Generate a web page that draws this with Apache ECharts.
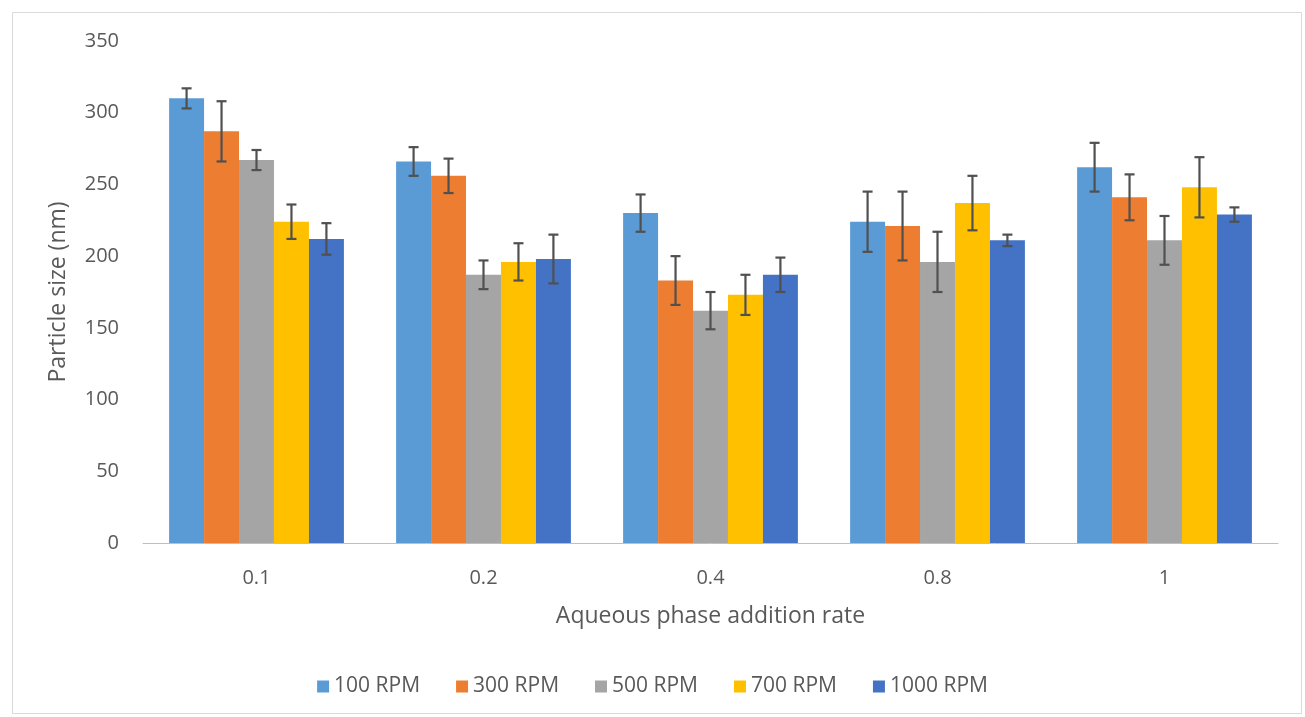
<!DOCTYPE html>
<html><head><meta charset="utf-8">
<script src="https://cdn.jsdelivr.net/npm/echarts@6/dist/echarts.min.js"></script>
<style>html,body{margin:0;padding:0;background:#fff}#c{width:1305px;height:717px}</style>
</head><body><div id="c"></div>
<script>
const categories = ['0.1', '0.2', '0.4', '0.8', '1'];
const seriesNames = ['100 RPM', '300 RPM', '500 RPM', '700 RPM', '1000 RPM'];
const rpm100 = [310, 266, 230, 224, 262];
const rpm300 = [287, 256, 183, 221, 241];
const rpm500 = [267, 187, 162, 196, 211];
const rpm700 = [224, 196, 173, 237, 248];
const rpm1000 = [212, 198, 187, 211, 229];
const err100 = [7, 10, 13, 21, 17];
const err300 = [21, 12, 17, 24, 16];
const err500 = [7, 10, 13, 21, 17];
const err700 = [12, 13, 14, 19, 21];
const err1000 = [11, 17, 12, 4, 5];
const yTicks = [0, 50, 100, 150, 200, 250, 300, 350];

const values = [rpm100, rpm300, rpm500, rpm700, rpm1000];
const errors = [err100, err300, err500, err700, err1000];
const colors = ['#5B9BD5', '#ED7D31', '#A5A5A5', '#FFC000', '#4472C4'];
const gapFrac = 0.23;
const font = '"Open Sans", "Liberation Sans", sans-serif';

const chart = echarts.init(document.getElementById('c'));
const series = [];
values.forEach((v, i) => {
  series.push({
    name: seriesNames[i], type: 'bar', data: v,
    barGap: '0%', barCategoryGap: (gapFrac * 100) + '%',
    itemStyle: { color: colors[i] }
  });
});
values.forEach((v, i) => {
  series.push({
    type: 'custom', silent: true, z: 10,
    data: v.map((val, j) => [j, val - errors[i][j], val + errors[i][j]]),
    renderItem: function (params, api) {
      const band = api.size([1, 0])[0];
      const groupW = band * (1 - gapFrac);
      const bw = groupW / 5;
      const off = -groupW / 2 + (i + 0.5) * bw;
      const lo = api.coord([api.value(0), api.value(1)]);
      const hi = api.coord([api.value(0), api.value(2)]);
      const x = lo[0] + off;
      const cap = 5;
      const st = { stroke: '#505050', lineWidth: 2.2 };
      return { type: 'group', children: [
        { type: 'line', shape: { x1: x, y1: lo[1], x2: x, y2: hi[1] }, style: st },
        { type: 'line', shape: { x1: x - cap, y1: lo[1], x2: x + cap, y2: lo[1] }, style: st },
        { type: 'line', shape: { x1: x - cap, y1: hi[1], x2: x + cap, y2: hi[1] }, style: st }
      ]};
    }
  });
});

chart.setOption({
  backgroundColor: '#ffffff',
  textStyle: { fontFamily: font },
  graphic: [{ type: 'rect', left: 10, top: 10, shape: { width: 1289, height: 701 },
    style: { fill: 'none', stroke: '#d9d9d9', lineWidth: 1 }, silent: true }],
  grid: { left: 143, right: 27, top: 41, bottom: 174 },
  legend: {
    bottom: 15, left: 'center', itemWidth: 12, itemHeight: 12, itemGap: 36,
    icon: 'rect', data: seriesNames,
    textStyle: { color: '#595959', fontSize: 21, fontFamily: font }
  },
  xAxis: {
    type: 'category', data: categories,
    name: 'Aqueous phase addition rate', nameLocation: 'middle', nameGap: 62,
    nameTextStyle: { color: '#595959', fontSize: 23, fontFamily: font },
    axisLine: { lineStyle: { color: '#bfbfbf', width: 1 } },
    axisTick: { show: false },
    axisLabel: { color: '#595959', fontSize: 20, margin: 25, fontFamily: font }
  },
  yAxis: {
    type: 'value', min: yTicks[0], max: yTicks[yTicks.length - 1], interval: 50,
    name: 'Particle size (nm)', nameLocation: 'middle', nameGap: 73, nameRotate: 90,
    nameTextStyle: { color: '#595959', fontSize: 23, fontFamily: font },
    axisLine: { show: false }, axisTick: { show: false },
    splitLine: { show: false },
    axisLabel: { color: '#595959', fontSize: 20, margin: 24, fontFamily: font }
  },
  series: series
});
</script></body></html>
